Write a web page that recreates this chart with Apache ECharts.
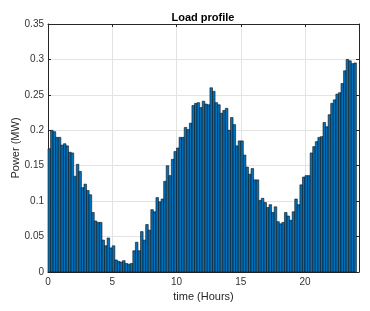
<!DOCTYPE html>
<html><head><meta charset="utf-8">
<script src="https://cdn.jsdelivr.net/npm/echarts@6/dist/echarts.min.js"></script>
<style>html,body{margin:0;padding:0;background:#fff}#c{width:370px;height:311px}</style>
</head><body><div id="c"></div>
<script>
// Start time (hours) of each 12-minute interval
const barStart = [
 0.0,0.2,0.4,0.6,0.8,1.0,1.2,1.4,1.6,1.8,2.0,2.2,2.4,2.6,2.8,3.0,3.2,3.4,3.6,3.8,
 4.0,4.2,4.4,4.6,4.8,5.0,5.2,5.4,5.6,5.8,6.0,6.2,6.4,6.6,6.8,7.0,7.2,7.4,7.6,7.8,
 8.0,8.2,8.4,8.6,8.8,9.0,9.2,9.4,9.6,9.8,10.0,10.2,10.4,10.6,10.8,11.0,11.2,11.4,11.6,11.8,
 12.0,12.2,12.4,12.6,12.8,13.0,13.2,13.4,13.6,13.8,14.0,14.2,14.4,14.6,14.8,15.0,15.2,15.4,15.6,15.8,
 16.0,16.2,16.4,16.6,16.8,17.0,17.2,17.4,17.6,17.8,18.0,18.2,18.4,18.6,18.8,19.0,19.2,19.4,19.6,19.8,
 20.0,20.2,20.4,20.6,20.8,21.0,21.2,21.4,21.6,21.8,22.0,22.2,22.4,22.6,22.8,23.0,23.2,23.4,23.6,23.8
];
// Power (MW)
const power = [
 0.174,0.200,0.198,0.190,0.190,0.179,0.181,0.178,0.169,0.168,0.135,0.152,0.142,0.119,0.124,0.115,0.109,0.084,0.072,0.070,
 0.070,0.045,0.037,0.048,0.034,0.037,0.017,0.015,0.014,0.016,0.012,0.011,0.012,0.030,0.042,0.030,0.057,0.045,0.067,0.059,
 0.088,0.085,0.105,0.099,0.103,0.128,0.150,0.136,0.159,0.170,0.175,0.190,0.190,0.204,0.201,0.210,0.235,0.238,0.239,0.232,
 0.241,0.237,0.236,0.260,0.255,0.239,0.236,0.224,0.228,0.231,0.200,0.218,0.208,0.178,0.185,0.185,0.165,0.148,0.138,0.146,
 0.130,0.130,0.101,0.104,0.098,0.091,0.095,0.084,0.092,0.071,0.068,0.070,0.084,0.079,0.073,0.085,0.103,0.095,0.123,0.134,
 0.136,0.136,0.168,0.177,0.184,0.190,0.191,0.211,0.205,0.222,0.238,0.243,0.251,0.253,0.266,0.284,0.300,0.298,0.294,0.295
];
const xTickValues = [0, 5, 10, 15, 20];
const yTickLabels = ['0', '0.05', '0.1', '0.15', '0.2', '0.25', '0.3', '0.35'];
const titleText = 'Load profile';
const xName = 'time (Hours)';
const yName = 'Power (MW)';

const BAR_STEP = 0.2;
const X_MIN = 0, X_MAX = 24.2, Y_MIN = 0, Y_MAX = 0.35;
const axisColor = '#262626';
const gridColor = '#e3e3e3';
const font = 'Liberation Sans, Arial, Helvetica, sans-serif';

const chart = echarts.init(document.getElementById('c'), null, {renderer: 'canvas'});

function baseX(pos, show) {
  return {
    type: 'value', position: pos, min: X_MIN, max: X_MAX, interval: 5,
    axisLine: {show: true, onZero: false, lineStyle: {color: axisColor, width: 1}},
    axisTick: {show: true, inside: true, length: 3, lineStyle: {color: axisColor}},
    axisLabel: {show: show, showMaxLabel: false, color: '#333', fontSize: 10, fontFamily: font, margin: 5,
      formatter: v => xTickValues.indexOf(v) >= 0 ? String(v) : ''},
    splitLine: {show: show, lineStyle: {color: gridColor, width: 1}}
  };
}
function baseY(pos, show) {
  return {
    type: 'value', position: pos, min: Y_MIN, max: Y_MAX, interval: 0.05,
    axisLine: {show: true, onZero: false, lineStyle: {color: axisColor, width: 1}},
    axisTick: {show: true, inside: true, length: 3, lineStyle: {color: axisColor}},
    axisLabel: {show: show, color: '#333', fontSize: 10, fontFamily: font, margin: 4,
      formatter: v => yTickLabels[Math.round(v / 0.05)]},
    splitLine: {show: show, lineStyle: {color: gridColor, width: 1}}
  };
}

const xb = baseX('bottom', true);
xb.name = xName; xb.nameLocation = 'middle'; xb.nameGap = 19; xb.nameMoveOverlap = false;
xb.nameTextStyle = {color: '#262626', fontSize: 11, fontFamily: font};
const yl = baseY('left', true);
yl.name = yName; yl.nameLocation = 'middle'; yl.nameGap = 27; yl.nameMoveOverlap = false;
yl.nameTextStyle = {color: '#262626', fontSize: 11, fontFamily: font};

chart.setOption({
  animation: false,
  backgroundColor: '#fff',
  title: {text: titleText, left: 203, top: 12, padding: 0, textAlign: 'center',
    textStyle: {fontSize: 11, fontWeight: 'bold', color: '#000', fontFamily: font}},
  grid: {left: 48, right: 11, top: 24, bottom: 39, containLabel: false, outerBoundsMode: 'none'},
  xAxis: [xb, baseX('top', false)],
  yAxis: [yl, baseY('right', false)],
  series: [{
    type: 'custom',
    xAxisIndex: 0, yAxisIndex: 0,
    data: barStart.map((t, i) => [t, power[i]]),
    encode: {x: 0, y: 1},
    renderItem: function (params, api) {
      const x0 = api.value(0), y = api.value(1);
      const pTop = api.coord([x0, y]);
      const pBot = api.coord([x0 + BAR_STEP, 0]);
      return {
        type: 'rect',
        shape: {x: pTop[0], y: pTop[1], width: pBot[0] - pTop[0], height: pBot[1] - pTop[1]},
        style: {fill: '#0072BD', stroke: '#111', lineWidth: 0.6}
      };
    }
  }]
});
</script>
</body></html>
